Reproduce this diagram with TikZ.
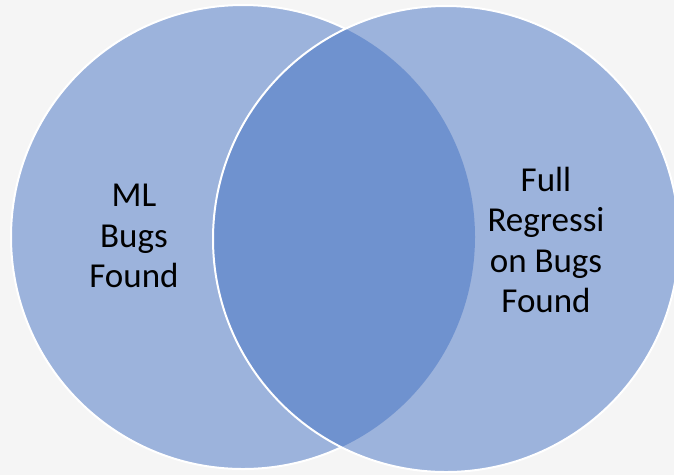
\documentclass[tikz,border=0pt]{standalone}
\usepackage{fontspec}
\setmainfont{Carlito}
\definecolor{venn}{HTML}{4472C4}
\definecolor{bgcol}{HTML}{F5F5F5}
\begin{document}
\begin{tikzpicture}[x=1pt,y=-1pt,
  setfill/.style={fill=venn, fill opacity=0.5},
  rim/.style={draw=white, line width=2pt},
  settext/.style={font=\fontsize{35}{40.5}\selectfont, align=center, inner sep=0pt, text=black}]
\useasboundingbox (0,0) rectangle (674,475);
\fill[bgcol] (0,0) rectangle (674,475);
\coordinate (cl) at (243,237);
\coordinate (cr) at (446,239);
\fill[setfill] (cl) circle[radius=232];
\fill[setfill] (cr) circle[radius=233];
\begin{scope}[even odd rule]
  \clip (-10,-10) rectangle (700,500) (cr) circle[radius=233];
  \draw[rim] (cl) circle[radius=232];
\end{scope}
\draw[rim] (cr) circle[radius=233];
\node[settext] (ml) at (134,236) {ML\\Bugs\\Found};
\node[settext] (full) at (546,240) {Full\\Regressi\\on Bugs\\Found};
\end{tikzpicture}
\end{document}
